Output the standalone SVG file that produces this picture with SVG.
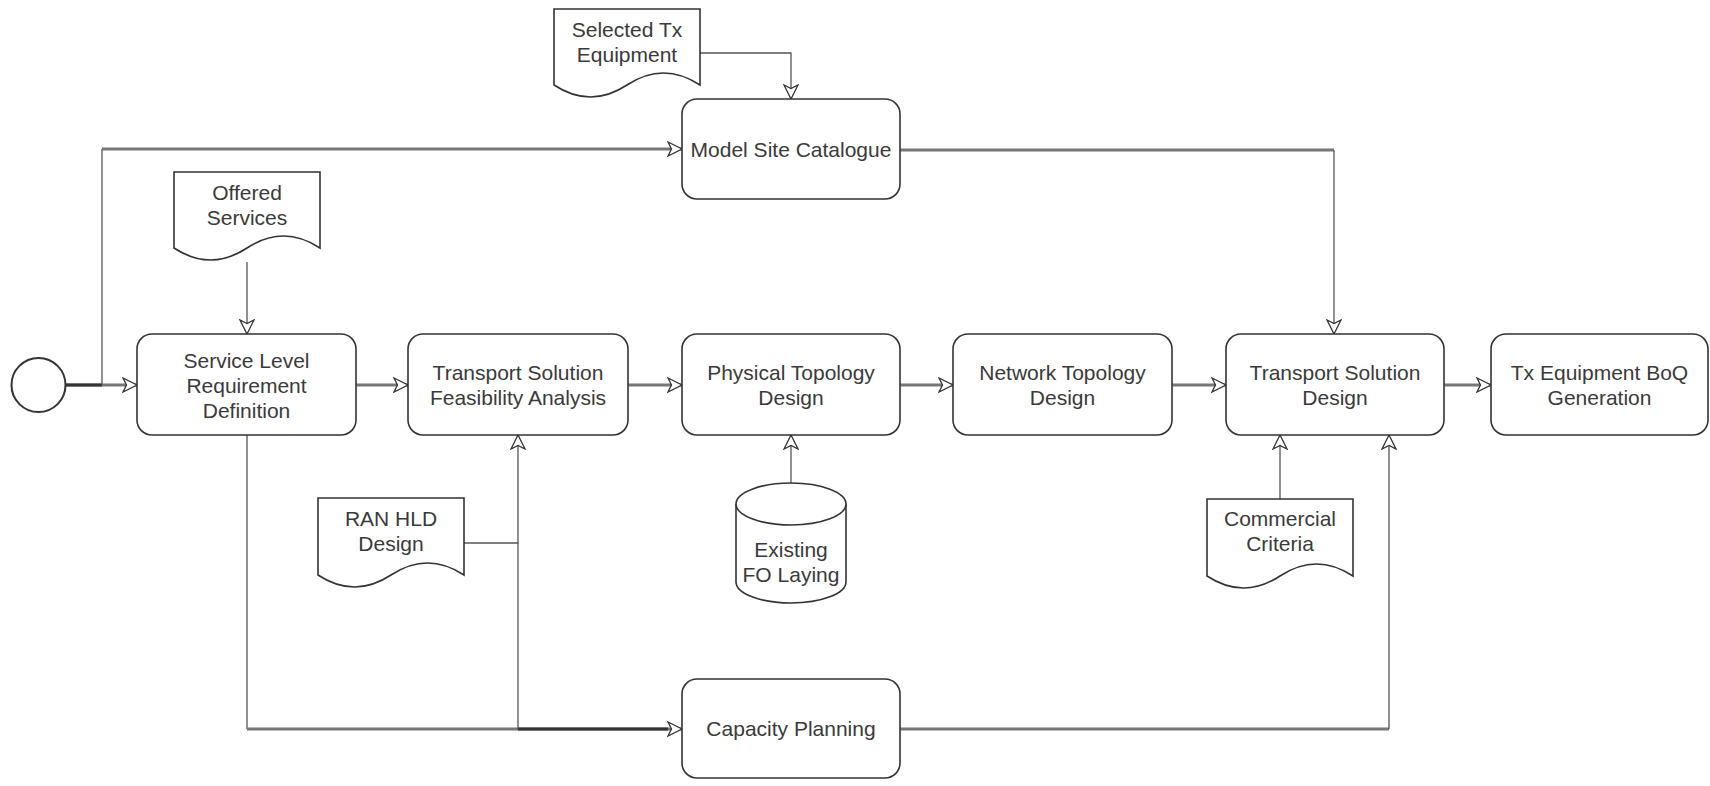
<svg xmlns="http://www.w3.org/2000/svg" width="1710" height="786" viewBox="0 0 1710 786">
<style>
  .box { fill: #fff; stroke: #333; stroke-width: 1.6; }
  .doc { fill: #fff; stroke: #333; stroke-width: 1.6; }
  .txt { font-family: "Liberation Sans", Arial, sans-serif; font-size: 21px; fill: #3a3a3a; text-anchor: middle; }
  .thin { fill: none; stroke: #555; stroke-width: 1.3; }
  .thick { fill: none; stroke: #777; stroke-width: 3; }
  .dark { fill: none; stroke: #333; stroke-width: 3; }
</style>
<defs>
  <marker id="arr" viewBox="0 0 16 16" refX="15" refY="8" markerWidth="16" markerHeight="16" markerUnits="userSpaceOnUse" orient="auto">
    <path d="M1,1 L15,8 L1,15 L4.5,8 Z" fill="#fff" stroke="#333" stroke-width="1.3"/>
  </marker>
</defs>
<rect width="1710" height="786" fill="#fff"/>

<g id="connectors">
  <line class="thick" x1="65" y1="385" x2="137" y2="385" marker-end="url(#arr)"/>
  <line class="dark" x1="65" y1="385" x2="102" y2="385"/>
  <path class="thin" d="M102,385 V149"/>
  <line class="thick" x1="102" y1="149" x2="682" y2="149" marker-end="url(#arr)"/>
  <path class="thin" d="M700,53 H791 V99" marker-end="url(#arr)"/>
  <path class="thin" d="M247,262 V334" marker-end="url(#arr)"/>
  <line class="thick" x1="356" y1="385" x2="408" y2="385" marker-end="url(#arr)"/>
  <line class="thick" x1="628" y1="385" x2="682" y2="385" marker-end="url(#arr)"/>
  <line class="thick" x1="900" y1="385" x2="953" y2="385" marker-end="url(#arr)"/>
  <line class="thick" x1="1172" y1="385" x2="1226" y2="385" marker-end="url(#arr)"/>
  <line class="thick" x1="1444" y1="385" x2="1491" y2="385" marker-end="url(#arr)"/>
  <line class="thick" x1="900" y1="150" x2="1334" y2="150"/>
  <path class="thin" d="M1334,150 V334" marker-end="url(#arr)"/>
  <path class="thin" d="M247,435 V729"/>
  <line class="thick" x1="247" y1="729" x2="682" y2="729" marker-end="url(#arr)"/>
  <line class="dark" x1="518" y1="729" x2="668" y2="729"/>
  <path class="thin" d="M464,543 H518 V435" marker-end="url(#arr)"/>
  <path class="thin" d="M518,543 V729"/>
  <path class="thin" d="M791,483 V435" marker-end="url(#arr)"/>
  <path class="thin" d="M1280,499 V435" marker-end="url(#arr)"/>
  <line class="thick" x1="900" y1="729" x2="1389" y2="729"/>
  <path class="thin" d="M1389,729 V435" marker-end="url(#arr)"/>
</g>

<g id="start">
  <circle cx="38.5" cy="385" r="27" fill="#fff" stroke="#333" stroke-width="2"/>
</g>

<g id="selected-tx">
  <path class="doc" d="M554,9 H700 V85 Q663.5,61 627,85 T554,85 Z"/>
  <text class="txt" x="627" y="37">Selected Tx</text>
  <text class="txt" x="627" y="62">Equipment</text>
</g>

<g id="model-site">
  <rect class="box" x="682" y="99" width="218" height="100" rx="15"/>
  <text class="txt" x="791" y="157">Model Site Catalogue</text>
</g>

<g id="offered">
  <path class="doc" d="M174,172 H320 V248 Q283.5,224 247,248 T174,248 Z"/>
  <text class="txt" x="247" y="200">Offered</text>
  <text class="txt" x="247" y="225">Services</text>
</g>

<g id="sl">
  <rect class="box" x="137" y="334" width="219" height="101" rx="15"/>
  <text class="txt" x="246.5" y="368">Service Level</text>
  <text class="txt" x="246.5" y="393">Requirement</text>
  <text class="txt" x="246.5" y="418">Definition</text>
</g>

<g id="tsf">
  <rect class="box" x="408" y="334" width="220" height="101" rx="15"/>
  <text class="txt" x="518" y="380">Transport Solution</text>
  <text class="txt" x="518" y="405">Feasibility Analysis</text>
</g>

<g id="ptd">
  <rect class="box" x="682" y="334" width="218" height="101" rx="15"/>
  <text class="txt" x="791" y="380">Physical Topology</text>
  <text class="txt" x="791" y="405">Design</text>
</g>

<g id="ntd">
  <rect class="box" x="953" y="334" width="219" height="101" rx="15"/>
  <text class="txt" x="1062.5" y="380">Network Topology</text>
  <text class="txt" x="1062.5" y="405">Design</text>
</g>

<g id="tsd">
  <rect class="box" x="1226" y="334" width="218" height="101" rx="15"/>
  <text class="txt" x="1335" y="380">Transport Solution</text>
  <text class="txt" x="1335" y="405">Design</text>
</g>

<g id="boq">
  <rect class="box" x="1491" y="334" width="217" height="101" rx="15"/>
  <text class="txt" x="1599.5" y="380">Tx Equipment BoQ</text>
  <text class="txt" x="1599.5" y="405">Generation</text>
</g>

<g id="ran-hld">
  <path class="doc" d="M318,498 H464 V575 Q427.5,551 391,575 T318,575 Z"/>
  <text class="txt" x="391" y="526">RAN HLD</text>
  <text class="txt" x="391" y="551">Design</text>
</g>

<g id="existing-fo">
  <path class="doc" d="M736,504 A55,21 0 0 1 846,504 V582 A55,21 0 0 1 736,582 Z"/>
  <path class="doc" fill="none" d="M736,504 A55,21 0 0 0 846,504"/>
  <text class="txt" x="791" y="557">Existing</text>
  <text class="txt" x="791" y="582">FO Laying</text>
</g>

<g id="commercial">
  <path class="doc" d="M1207,499 H1353 V576 Q1316.5,552 1280,576 T1207,576 Z"/>
  <text class="txt" x="1280" y="526">Commercial</text>
  <text class="txt" x="1280" y="551">Criteria</text>
</g>

<g id="capacity">
  <rect class="box" x="682" y="679" width="218" height="99" rx="15"/>
  <text class="txt" x="791" y="736">Capacity Planning</text>
</g>
</svg>
